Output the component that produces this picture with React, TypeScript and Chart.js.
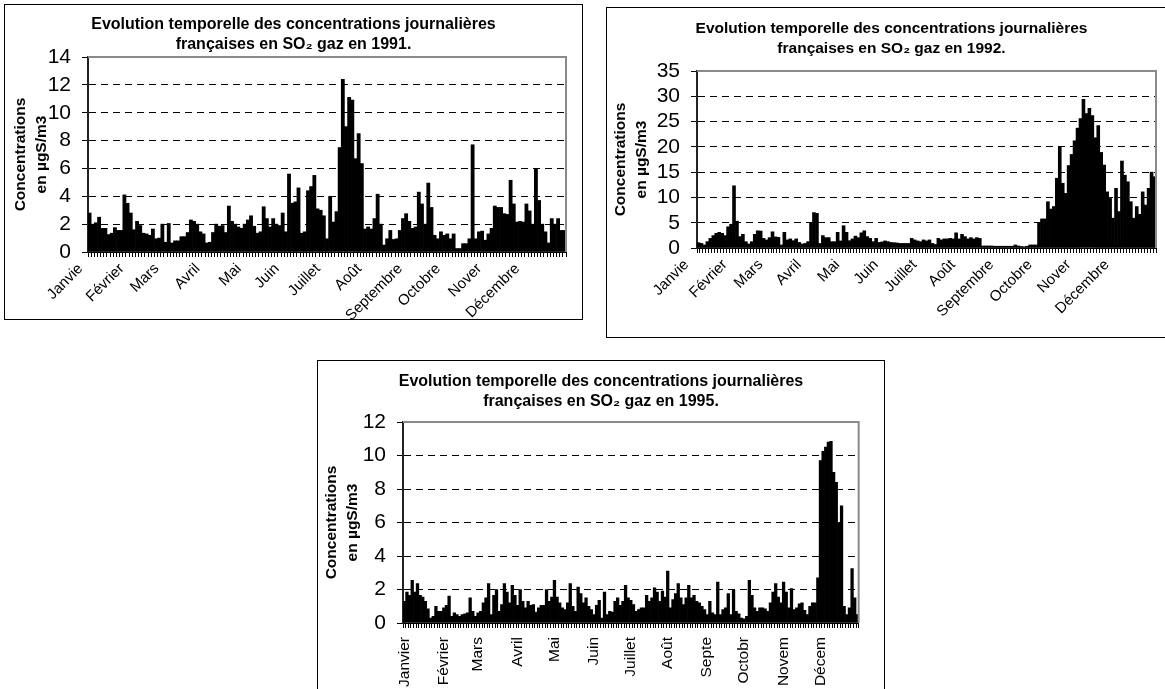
import React, { useEffect, useRef } from 'react';
import { Chart, registerables } from 'chart.js';

Chart.register(...registerables);

const FONT = '"Liberation Sans", Arial, Helvetica, sans-serif';

// ---------- data ----------
const monthStartDays = [0, 31, 59, 90, 120, 151, 181, 212, 243, 273, 304, 334];
const monthLabels1991 = ['Janvie', 'Février', 'Mars', 'Avril', 'Mai', 'Juin', 'Juillet', 'Août', 'Septembre', 'Octobre', 'Nover', 'Décembre'];
const monthLabels1992 = ['Janvie', 'Février', 'Mars', 'Avril', 'Mai', 'Juin', 'Juillet', 'Août', 'Septembre', 'Octobre', 'Nover', 'Décembre'];
const monthLabels1995 = ['Janvier', 'Février', 'Mars', 'Avril', 'Mai', 'Juin', 'Juillet', 'Août', 'Septe', 'Octobr', 'Novem', 'Décem'];

const yTicks1991 = [0, 2, 4, 6, 8, 10, 12, 14];
const yTicks1992 = [0, 5, 10, 15, 20, 25, 30, 35];
const yTicks1995 = [0, 2, 4, 6, 8, 10, 12];

const title1991 = ['Evolution temporelle des concentrations journalières', 'françaises en SO₂ gaz en 1991.'];
const title1992 = ['Evolution temporelle des concentrations journalières', 'françaises en SO₂ gaz en 1992.'];
const title1995 = ['Evolution temporelle des concentrations journalières', 'françaises en SO₂ gaz en 1995.'];
const yAxisTitle = ['Concentrations', 'en µgS/m3'];

const so2_1991 = [
  2.8, 2.0, 2.1, 2.5, 1.7, 1.7, 1.25, 1.35, 1.75, 1.55, 1.55, 4.1, 3.5, 2.8, 1.6, 2.2, 1.9, 1.35, 1.3, 1.2,
  1.65, 0.95, 1.0, 2.0, 0.7, 2.05, 0.65, 0.8, 0.8, 1.1, 1.1, 1.4, 2.3, 2.2, 2.0, 1.45, 1.3, 0.65, 0.7, 1.4,
  2.0, 1.85, 1.9, 1.4, 3.3, 2.2, 2.0, 1.8, 1.7, 2.0, 2.3, 2.6, 1.85, 1.35, 1.45, 3.25, 2.4, 1.8, 2.4, 2.0,
  1.9, 2.8, 1.45, 5.6, 3.5, 3.6, 4.6, 1.35, 1.45, 4.4, 4.7, 5.5, 3.1,
  3.0, 2.6, 0.95, 4.0, 2.15, 2.9, 7.5, 12.4, 9.0, 11.1, 10.9, 6.7, 8.5, 6.35, 1.65, 1.8, 1.65, 2.4, 4.15, 2.0,
  0.5, 0.95, 1.55, 0.9, 0.95, 1.55, 2.4, 2.75, 2.2, 1.7, 1.8, 4.3, 3.45, 2.0, 4.95, 3.2, 1.2, 0.95, 1.45, 1.2,
  1.3, 0.95, 1.3, 0.25, 0.25, 0.6, 0.6, 0.95, 7.7, 0.95, 1.45, 1.5, 0.85, 1.3, 1.7, 3.3, 3.2, 3.2, 2.75, 2.7,
  5.15, 3.45, 2.15, 2.2, 2.15, 3.45, 2.95, 2.0, 6.0, 3.7, 2.0, 1.45, 0.65, 2.4, 2.0, 2.4, 1.55, 1.55,
];

const so2_1992 = [
  1.05, 0.9, 0.6, 1.25, 1.9, 2.45, 2.9, 3.1, 2.9, 2.45, 4.2, 4.7, 12.3, 5.3, 2.25, 2.7, 1.25, 0.8, 1.25, 2.7,
  3.4, 3.35, 1.9, 1.6, 2.05, 3.2, 2.2, 2.1, 0.6, 3.1, 1.6, 1.8, 1.45, 1.8, 1.1, 0.8, 0.9, 1.25, 4.9, 7.0,
  6.85, 0.9, 2.45, 2.05, 2.05, 1.25, 1.25, 3.1, 1.4, 4.4, 3.1, 1.45, 1.8, 2.35, 2.05, 3.0, 3.4, 2.25, 1.9, 1.25,
  1.9, 1.1, 1.2, 1.4, 1.25, 1.1, 1.05, 1.0, 0.9, 0.9, 0.9, 0.9, 1.9, 1.6, 1.4, 1.25,
  1.6, 1.4, 1.6, 0.9, 0.7, 1.9, 1.6, 1.8, 1.8, 1.9, 1.8, 3.0, 1.8, 2.7, 2.25, 1.8, 2.05, 1.8, 2.05, 1.9,
  0.4, 0.4, 0.4, 0.4, 0.35, 0.35, 0.35, 0.35, 0.35, 0.35, 0.35, 0.6, 0.4, 0.3, 0.25, 0.35, 0.6, 0.6, 0.6,
  4.9, 5.75, 5.75, 9.15, 7.7, 8.2, 13.8, 20.0, 12.8, 10.8, 16.3, 18.5, 21.2, 23.7, 25.6, 29.4, 26.6, 27.6, 26.2, 21.8,
  24.2, 18.9, 16.4, 11.1, 9.8, 5.9, 11.8, 7.2, 17.2, 14.4, 13.1, 9.15, 5.9, 8.2, 6.65, 11.1, 8.5, 11.8, 15.0, 14.1,
];

const so2_1995 = [
  1.3, 1.85, 1.65, 2.55, 1.85, 2.35, 1.65, 1.55, 1.3, 0.85, 0.3, 0.4, 1.0, 0.7, 0.7, 0.9, 1.05, 1.6, 0.4, 0.6,
  0.5, 0.4, 0.5, 0.55, 0.6, 1.5, 0.7, 0.4, 0.6, 0.7, 1.2, 1.5, 2.35, 0.5, 1.65, 2.0, 0.7, 1.1, 2.35, 1.85,
  1.2, 2.25, 1.65, 1.05, 2.0, 1.3, 0.9, 1.3, 1.05, 1.1, 0.65, 0.9, 1.05, 1.05, 2.0, 1.3, 1.55, 2.55, 1.55, 1.2,
  0.9, 0.8, 1.2, 2.35, 1.0, 0.7, 2.15, 1.75, 1.2, 1.5, 1.0, 0.8, 0.5, 1.05, 1.35, 0.3, 1.85, 0.5, 0.7, 0.65,
  1.3, 1.5, 1.05,
  1.3, 2.25, 1.5, 1.35, 1.1, 0.7, 0.8, 0.9, 0.9, 1.65, 1.3, 1.5, 2.1, 1.85, 1.3, 1.9, 1.55, 3.1, 0.9, 1.4,
  1.75, 2.35, 1.5, 1.1, 1.5, 2.25, 1.5, 1.65, 1.3, 1.2, 1.0, 0.8, 0.5, 1.3, 0.6, 0.5, 2.45, 0.5, 0.8, 0.9,
  1.75, 0.5, 1.95, 0.7, 0.55, 0.3, 0.25, 0.4, 2.55, 1.65, 0.9, 0.7, 0.9, 0.9, 0.85, 0.7, 1.2, 1.85, 2.35, 1.55,
  1.2, 2.45, 1.85, 0.9, 2.05, 0.8, 0.9, 1.15, 1.2, 0.75, 0.5, 1.0, 1.2, 1.2, 2.7, 9.7, 10.25, 10.5, 10.8, 10.85,
  9.0, 8.4, 6.0, 7.0, 1.0, 0.5, 0.9, 3.25, 1.5, 0.5,
];

// ---------- chart ----------
const framePlugin = {
  id: 'plotFrame',
  afterDatasetsDraw(chart: any) {
    const { ctx, chartArea } = chart;
    const { left, right, top, bottom } = chartArea;
    ctx.save();
    ctx.strokeStyle = '#8a8a8a';
    ctx.lineWidth = 2;
    ctx.setLineDash([]);
    ctx.beginPath();
    ctx.moveTo(left, top);
    ctx.lineTo(right, top);
    ctx.lineTo(right, bottom);
    ctx.stroke();
    ctx.restore();
  },
};

type Geo = {
  x: number; y: number; w: number; h: number; bw: number; bh: number;
  yWidth: number; xHeight: number; rightW: number;
  titleTop: number; titleBottom: number; titleSize: number;
  yTitleTop: number; labelOffset: number; xPad: number; xFont: number;
};

function SO2Chart(props: { values: number[]; months: string[]; title: string[]; yTicks: number[]; rotation: number; geo: Geo }) {
  const { values, months, title, yTicks, rotation, geo } = props;
  const ref = useRef<HTMLCanvasElement>(null);
  useEffect(() => {
    const n = values.length;
    const labels = values.map(() => '');
    monthStartDays.forEach((d, i) => {
      labels[Math.min(n - 1, Math.round((d / 365) * n))] = months[i];
    });
    const yMax = yTicks[yTicks.length - 1];
    const yStep = yTicks[1] - yTicks[0];
    const chart = new Chart(ref.current as HTMLCanvasElement, {
      type: 'bar',
      data: {
        labels,
        datasets: [{ data: values, backgroundColor: '#000', borderWidth: 0, barPercentage: 1, categoryPercentage: 1 }],
      },
      options: {
        responsive: false,
        animation: false,
        layout: { padding: 0 },
        plugins: {
          legend: { display: false },
          tooltip: { enabled: false },
          title: {
            display: true,
            text: title,
            color: '#000',
            font: { family: FONT, size: geo.titleSize, weight: 'bold', lineHeight: 20 / geo.titleSize },
            padding: { top: geo.titleTop, bottom: geo.titleBottom },
          },
        },
        scales: {
          x: {
            offset: true,
            grid: { display: true, drawOnChartArea: false, drawTicks: true, tickLength: 5, tickColor: '#000', tickWidth: 1, offset: true },
            border: { display: true, color: '#000', width: 1 },
            ticks: {
              autoSkip: false,
              minRotation: rotation,
              maxRotation: rotation,
              color: '#000',
              font: { family: FONT, size: geo.xFont },
              padding: geo.xPad,
              labelOffset: geo.labelOffset,
            },
            afterFit: (s: any) => { s.height = geo.xHeight; },
          },
          y: {
            min: 0,
            max: yMax,
            ticks: { stepSize: yStep, autoSkip: false, color: '#000', font: { family: FONT, size: 21, lineHeight: 1 }, padding: 11 },
            grid: {
              color: (c: any) => (c.tick && (c.tick.value === 0 || c.tick.value === yMax) ? 'rgba(0,0,0,0)' : '#000'),
              lineWidth: 1,
              tickColor: '#000',
              tickLength: 6,
              tickBorderDash: [],
            },
            border: { display: true, color: '#222', width: 2, dash: [7, 5] },
            title: {
              display: true,
              text: yAxisTitle,
              color: '#000',
              font: { family: FONT, size: 15.5, weight: 'bold', lineHeight: 21 / 15.5 },
              padding: { top: geo.yTitleTop, bottom: 0 },
            },
            afterFit: (s: any) => { s.width = geo.yWidth; },
          },
          r: {
            type: 'linear',
            position: 'right',
            display: true,
            grid: { display: false, drawTicks: false },
            border: { display: false },
            ticks: { display: false },
            afterFit: (s: any) => { s.width = geo.rightW; },
          },
        },
      } as any,
      plugins: [framePlugin],
    });
    return () => chart.destroy();
  }, []);
  return (
    <>
      <canvas
        ref={ref}
        width={geo.w}
        height={geo.h}
        style={{ position: 'absolute', left: geo.x, top: geo.y, width: geo.w, height: geo.h }}
      />
      <div
        style={{
          position: 'absolute', left: geo.x, top: geo.y, width: geo.bw, height: geo.bh,
          border: '1px solid #000', boxSizing: 'border-box', pointerEvents: 'none',
        }}
      />
    </>
  );
}

const geo1991: Geo = { x: 4, y: 4, w: 579, h: 316, bw: 579, bh: 316, yWidth: 84, xHeight: 68, rightW: 17, titleTop: 11, titleBottom: 2, titleSize: 16, yTitleTop: 6.5, labelOffset: -9, xPad: 3, xFont: 15 };
const geo1992: Geo = { x: 606, y: 7, w: 571, h: 331, bw: 580, bh: 331, yWidth: 91, xHeight: 90, rightW: 21, titleTop: 12, titleBottom: 12, titleSize: 15.5, yTitleTop: 4.5, labelOffset: -12, xPad: 3, xFont: 15 };
const geo1995: Geo = { x: 317, y: 360, w: 568, h: 329, bw: 568, bh: 340, yWidth: 86, xHeight: 66, rightW: 19, titleTop: 12, titleBottom: 10, titleSize: 16, yTitleTop: 4.5, labelOffset: 0, xPad: 9, xFont: 15.5 };

export default function App() {
  return (
    <div style={{ position: 'absolute', left: 0, top: 0, width: 1165, height: 689, overflow: 'hidden', background: '#fff' }}>
      <SO2Chart values={so2_1991} months={monthLabels1991} title={title1991} yTicks={yTicks1991} rotation={45} geo={geo1991} />
      <SO2Chart values={so2_1992} months={monthLabels1992} title={title1992} yTicks={yTicks1992} rotation={45} geo={geo1992} />
      <SO2Chart values={so2_1995} months={monthLabels1995} title={title1995} yTicks={yTicks1995} rotation={90} geo={geo1995} />
    </div>
  );
}
